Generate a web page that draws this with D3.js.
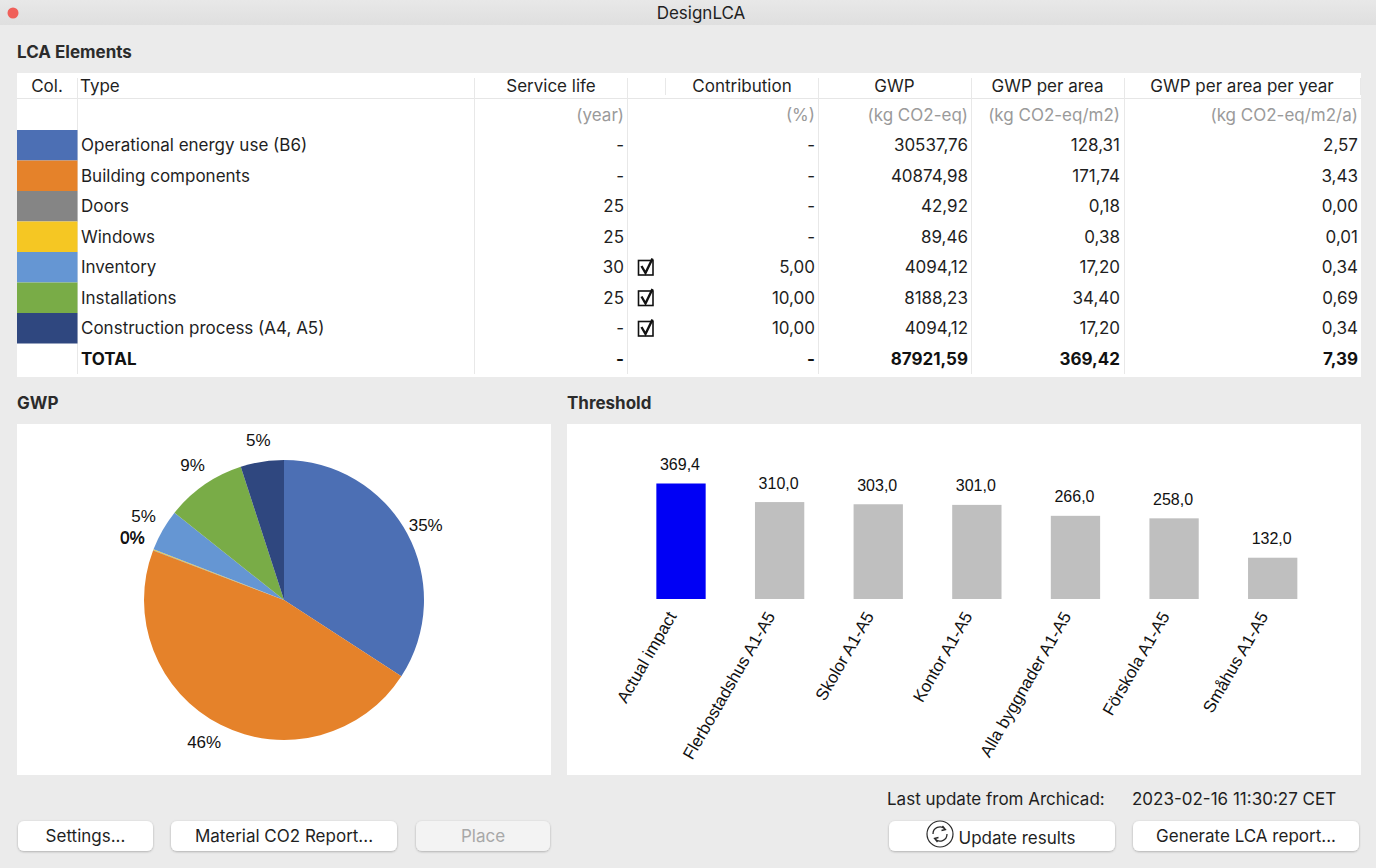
<!DOCTYPE html>
<html>
<head>
<meta charset="utf-8">
<script src="https://cdn.jsdelivr.net/npm/d3@7"></script>
<style>
  html, body { margin: 0; padding: 0; background: #ebebeb; overflow: hidden; }
  svg { display: block; }
  text { font-family: Inter, "Noto Sans", sans-serif; fill: #1f1f1f; }
  .ui { font-size: 17px; }
  .head { font-size: 17px; font-weight: 700; fill: #2b2b2b; }
  .unit { font-size: 17px; fill: #9a9a9a; }
  .total { font-weight: 700; fill: #111; }
  .chart text { font-family: "Liberation Sans", Arial, sans-serif; font-size: 17px; fill: #111; }
  .chart text.val { font-size: 16px; }
</style>
</head>
<body>
<svg id="app" width="1376" height="868"></svg>
<script>
// table data
const types = ["Operational energy use (B6)", "Building components", "Doors", "Windows", "Inventory", "Installations", "Construction process (A4, A5)"];
const serviceLife = [null, null, 25, 25, 30, 25, null];
const contribution = [null, null, null, null, 5, 10, 10];
const checked = [false, false, false, false, true, true, true];
const gwp = [30537.76, 40874.98, 42.92, 89.46, 4094.12, 8188.23, 4094.12];
const gwpPerArea = [128.31, 171.74, 0.18, 0.38, 17.20, 34.40, 17.20];
const gwpPerYear = [2.57, 3.43, 0.00, 0.01, 0.34, 0.69, 0.34];
const totals = [null, null, 87921.59, 369.42, 7.39];
const typeColors = ["#4c6fb4", "#e5822a", "#858585", "#f5c723", "#6596d3", "#79ac47", "#2f477f"];

// headers
const columnHeads = ["Service life", "Contribution", "GWP", "GWP per area", "GWP per area per year"];
const columnUnits = ["(year)", "(%)", "(kg CO2-eq)", "(kg CO2-eq/m2)", "(kg CO2-eq/m2/a)"];

// pie slices (%), the labels sit on the gwp shares
const pieShares = [34.2, 46.6, 0.05, 0.1, 4.8, 9.3, 5.0];

// threshold chart data
const thresholdNames = ["Actual impact", "Flerbostadshus A1-A5", "Skolor A1-A5", "Kontor A1-A5", "Alla byggnader A1-A5", "Förskola A1-A5", "Småhus A1-A5"];
const thresholdValues = [369.4, 310.0, 303.0, 301.0, 266.0, 258.0, 132.0];

const svg = d3.select("#app");
const comma = (v, n) => v.toFixed(n).replace(".", ",");
const num = v => v === null ? "-" : comma(v, 2);

// window
svg.append("rect").attr("width", 1376).attr("height", 868).attr("fill", "#ebebeb");
const titleGrad = svg.append("defs").append("linearGradient").attr("id", "titleGrad").attr("x2", 0).attr("y2", 1);
titleGrad.append("stop").attr("offset", 0).attr("stop-color", "#e8e8e8");
titleGrad.append("stop").attr("offset", 1).attr("stop-color", "#dfdfdf");
svg.append("rect").attr("width", 1376).attr("height", 25).attr("fill", "url(#titleGrad)");
svg.append("circle").attr("cx", 13).attr("cy", 13).attr("r", 5.5).attr("fill", "#f0605a");
svg.append("text").attr("x", 701).attr("y", 18.5).attr("text-anchor", "middle").attr("class", "ui").text("DesignLCA");

svg.append("text").attr("x", 17).attr("y", 58).attr("class", "head").text("LCA Elements");
svg.append("text").attr("x", 17).attr("y", 409).attr("class", "head").text("GWP");
svg.append("text").attr("x", 567).attr("y", 409).attr("class", "head").text("Threshold");

// table
const table = svg.append("g");
table.append("rect").attr("x", 17).attr("y", 73).attr("width", 1344).attr("height", 304).attr("fill", "#fff");
table.append("line").attr("x1", 17).attr("x2", 1361).attr("y1", 98.5).attr("y2", 98.5).attr("stroke", "#e6e6e6");

const colSeps = [77, 474, 627, 818, 971, 1124];
table.selectAll(".sep").data(colSeps).enter().append("line")
  .attr("class", "sep")
  .attr("x1", d => d + 0.5).attr("x2", d => d + 0.5)
  .attr("y1", 78).attr("y2", 374)
  .attr("stroke", "#e8e8e8");
table.selectAll(".sepHead").data([665, 1360]).enter().append("line")
  .attr("class", "sepHead")
  .attr("x1", d => d + 0.5).attr("x2", d => d + 0.5)
  .attr("y1", 78).attr("y2", 95)
  .attr("stroke", "#e8e8e8");

const headCenters = [551, 742, 894.5, 1047.5, 1242];
const colRight = [624, 815, 968, 1120, 1358];

table.append("text").attr("x", 47).attr("y", 91.5).attr("text-anchor", "middle").attr("class", "ui").text("Col.");
table.append("text").attr("x", 80).attr("y", 91.5).attr("class", "ui").text("Type");
table.selectAll(".colHead").data(columnHeads).enter().append("text")
  .attr("class", "colHead ui")
  .attr("x", (d, i) => headCenters[i]).attr("y", 91.5)
  .attr("text-anchor", "middle")
  .text(d => d);
table.selectAll(".colUnit").data(columnUnits).enter().append("text")
  .attr("class", "colUnit unit")
  .attr("x", (d, i) => colRight[i]).attr("y", 120.5)
  .attr("text-anchor", "end")
  .text(d => d);

const rowY = d3.scaleBand().domain(d3.range(types.length + 1)).range([130, 374]);

table.selectAll(".swatch").data(typeColors).enter().append("rect")
  .attr("class", "swatch")
  .attr("x", 17).attr("width", 60.5)
  .attr("y", (d, i) => rowY(i)).attr("height", rowY.bandwidth())
  .attr("fill", d => d);

const rowText = i => rowY(i) + rowY.bandwidth() / 2 + 6.2;

table.selectAll(".typeName").data(types).enter().append("text")
  .attr("class", "typeName ui")
  .attr("x", 81).attr("y", (d, i) => rowText(i))
  .text(d => d);

const rowCells = types.map((t, i) => [
  serviceLife[i] === null ? "-" : String(serviceLife[i]),
  num(contribution[i]), num(gwp[i]), num(gwpPerArea[i]), num(gwpPerYear[i])
]);
rowCells.forEach((cells, i) => {
  table.selectAll(".cell" + i).data(cells).enter().append("text")
    .attr("class", "cell" + i + " ui")
    .attr("x", (d, c) => colRight[c]).attr("y", rowText(i))
    .attr("text-anchor", "end")
    .text(d => d);
});

// total row
table.append("text").attr("x", 81).attr("y", rowText(types.length)).attr("class", "ui total").text("TOTAL");
table.selectAll(".totalCell").data(totals).enter().append("text")
  .attr("class", "totalCell ui total")
  .attr("x", (d, c) => colRight[c]).attr("y", rowText(types.length))
  .attr("text-anchor", "end")
  .text(num);

// check boxes
const boxes = table.selectAll(".check").data(d3.range(types.length).filter(i => checked[i])).enter().append("g")
  .attr("class", "check")
  .attr("transform", i => `translate(638,${rowY(i) + 8})`);
boxes.append("rect").attr("width", 14.5).attr("height", 14.5).attr("x", 0.5).attr("y", 0.5)
  .attr("fill", "#fff").attr("stroke", "#111").attr("stroke-width", 1.6);
boxes.append("path").attr("d", "M3.5 6 L7.5 13 L14.5 -1.5").attr("fill", "none").attr("stroke", "#111").attr("stroke-width", 2.4);

// pie panel
svg.append("rect").attr("x", 17).attr("y", 424).attr("width", 534).attr("height", 351).attr("fill", "#fff");
const pieG = svg.append("g").attr("class", "chart").attr("transform", "translate(284,600)");
const pieGen = d3.pie().sort(null);
const arc = d3.arc().innerRadius(0).outerRadius(140);
const labelArc = d3.arc().innerRadius(162).outerRadius(162);
const gwpTotal = d3.sum(gwp);
pieG.selectAll(".slice").data(pieGen(pieShares)).enter().append("path")
  .attr("class", "slice")
  .attr("d", arc)
  .attr("fill", (d, i) => typeColors[i]);
pieG.selectAll(".pct").data(pieGen(gwp)).enter().append("text")
  .attr("class", "pct")
  .attr("transform", d => `translate(${labelArc.centroid(d)})`)
  .attr("x", -2)
  .attr("text-anchor", "middle")
  .attr("dy", "0.36em")
  .text(d => Math.round(d.data / gwpTotal * 100) + "%");

// threshold panel
svg.append("rect").attr("x", 567).attr("y", 424).attr("width", 794).attr("height", 351).attr("fill", "#fff");
const barG = svg.append("g").attr("class", "chart");
const x = d3.scaleBand().domain(thresholdNames).range([631.7, 1322]).paddingInner(0.5).paddingOuter(0.25);
const y = d3.scaleLinear().domain([0, 369.4]).range([599, 483.5]);
barG.selectAll(".bar").data(thresholdValues).enter().append("rect")
  .attr("class", "bar")
  .attr("x", (d, i) => x(thresholdNames[i]))
  .attr("width", x.bandwidth())
  .attr("y", d => y(d))
  .attr("height", d => y(0) - y(d))
  .attr("fill", (d, i) => i === 0 ? "#0000f5" : "#bfbfbf");
barG.selectAll(".val").data(thresholdValues).enter().append("text")
  .attr("class", "val")
  .attr("x", (d, i) => x(thresholdNames[i]) + x.bandwidth() / 2 - 1)
  .attr("y", d => y(d) - 13.5)
  .attr("text-anchor", "middle")
  .text(d => comma(d, 1));
const axis = barG.append("g").attr("transform", "translate(0,599)").call(d3.axisBottom(x).tickSize(0).tickPadding(0));
axis.select(".domain").remove();
axis.selectAll("text")
  .attr("text-anchor", "end")
  .attr("transform", "translate(-9,14) rotate(-60)")
  .attr("dy", "0.35em")
  .attr("y", 0);

// buttons
const buttonLabels = ["Settings...", "Material CO2 Report...", "Place", "Update results", "Generate LCA report..."];
const buttonX = [18, 171, 416, 889, 1133];
const buttonW = [135, 226, 134, 226, 226];
const shadow = svg.select("defs").append("filter").attr("id", "btnShadow").attr("x", "-5%").attr("y", "-20%").attr("width", "110%").attr("height", "150%");
shadow.append("feDropShadow").attr("dx", 0).attr("dy", 0.8).attr("stdDeviation", 0.9).attr("flood-color", "#000").attr("flood-opacity", 0.28);
const btn = svg.selectAll(".btn").data(buttonLabels).enter().append("g").attr("class", "btn");
btn.append("rect")
  .attr("x", (d, i) => buttonX[i]).attr("y", 821)
  .attr("width", (d, i) => buttonW[i]).attr("height", 30).attr("rx", 6)
  .attr("fill", (d, i) => i === 2 ? "#f3f3f3" : "#fff")
  .attr("filter", "url(#btnShadow)");
btn.append("text")
  .attr("class", "ui")
  .attr("x", (d, i) => i === 3 ? 1017 : buttonX[i] + buttonW[i] / 2)
  .attr("y", (d, i) => i === 3 ? 843.5 : 842)
  .attr("text-anchor", "middle")
  .style("fill", (d, i) => i === 2 ? "#a8a8a8" : null)
  .text(d => d);

// refresh icon
const icon = svg.append("g").attr("transform", "translate(940,834)").attr("fill", "none").attr("stroke", "#2a2a2a");
icon.append("circle").attr("r", 13).attr("stroke-width", 1.2);
icon.append("path").attr("d", "M-7 0 A7 7 0 0 1 5 -5 M2.5 -8 L5.5 -4.5 L1.5 -3.5").attr("stroke-width", 1.3);
icon.append("path").attr("d", "M7 0 A7 7 0 0 1 -5 5 M-2.5 8 L-5.5 4.5 L-1.5 3.5").attr("stroke-width", 1.3);

svg.append("text").attr("x", 887).attr("y", 805).attr("class", "ui").text("Last update from Archicad:");
svg.append("text").attr("x", 1132).attr("y", 805).attr("class", "ui").text("2023-02-16 11:30:27 CET");
</script>
</body>
</html>
